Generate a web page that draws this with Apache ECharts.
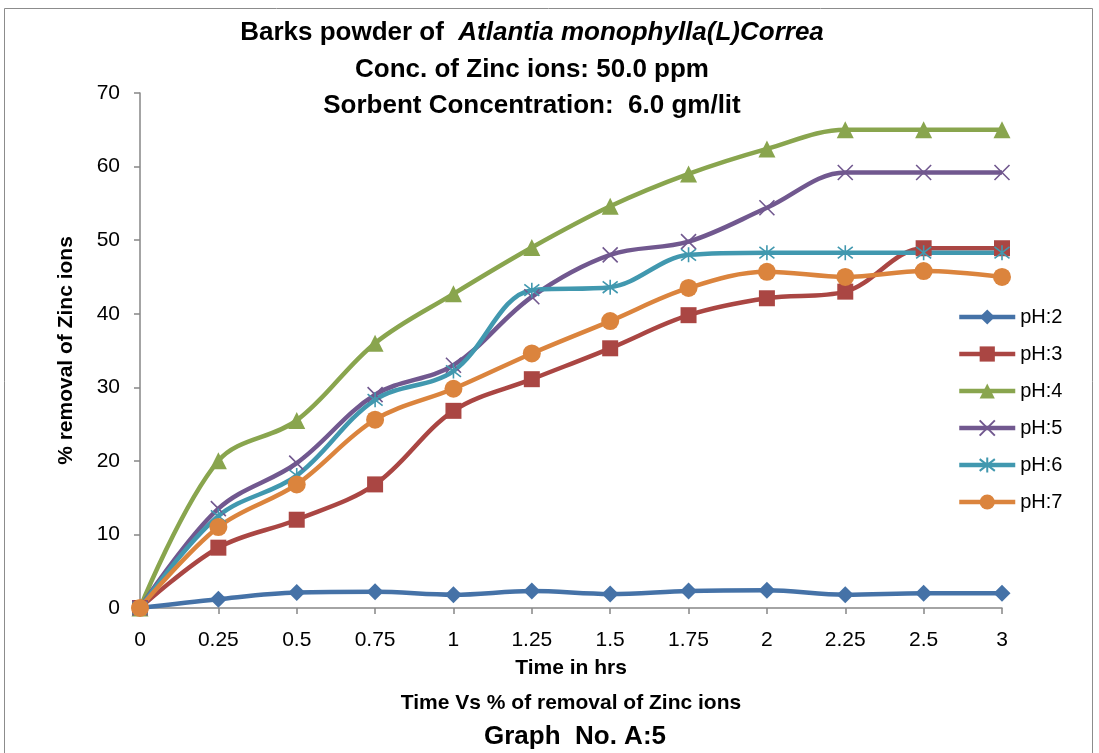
<!DOCTYPE html>
<html><head><meta charset="utf-8">
<script src="https://cdn.jsdelivr.net/npm/echarts@6/dist/echarts.min.js"></script>
<style>html,body{margin:0;padding:0;background:#fff}#c{width:1099px;height:753px}</style>
</head><body><div id="c"></div>
<script>
const categories = ['0','0.25','0.5','0.75','1','1.25','1.5','1.75','2','2.25','2.5','3'];
const pH2 = [0,1.2,2.1,2.2,1.8,2.3,1.9,2.3,2.4,1.8,2.0,2.0];
const pH3 = [0,8.2,12.0,16.8,26.8,31.1,35.3,39.8,42.1,43.0,48.9,48.9];
const pH4 = [0,20.0,25.5,36.0,42.7,49.0,54.6,59.0,62.4,65.0,65.0,65.0];
const pH5 = [0,13.5,19.7,29.0,33.0,42.3,48.0,49.8,54.4,59.2,59.2,59.2];
const pH6 = [0,12.5,18.0,28.3,32.2,43.2,43.6,48.0,48.3,48.3,48.3,48.3];
const pH7 = [0,11.0,16.8,25.6,29.8,34.6,39.0,43.5,45.7,45.0,45.8,45.0];
const seriesNames = ['pH:2','pH:3','pH:4','pH:5','pH:6','pH:7'];
const yTicks = {min:0, max:70, interval:10};

const FONT = "'Liberation Sans', Arial, sans-serif";
const colors = ['#4572A7','#AA4643','#89A54E','#71588F','#4198AF','#DB843D'];
const symbols = ['diamond','rect','triangle','path://M0,0L10,10M10,0L0,10','path://M0,0L10,10M10,0L0,10M5,-1.5L5,11.5','circle'];
const sizes = [17,16,17,15,15,18];
const datas = [pH2,pH3,pH4,pH5,pH6,pH7];

const chart = echarts.init(document.getElementById('c'));
const series = datas.map((d,i)=>({
  name: seriesNames[i], type:'line', data:d, smooth:0.35,
  symbol: symbols[i], symbolSize: sizes[i],
  lineStyle:{color:colors[i], width:4.5},
  itemStyle:{color:colors[i], borderColor:colors[i], borderWidth: i===3||i===4 ? 1.6 : 0},
  emphasis:{disabled:true}
}));

chart.setOption({
  animation:false,
  backgroundColor:'#fff',
  textStyle:{fontFamily:FONT},
  grid:{left:140, right:97, top:93, bottom:145, containLabel:false},
  legend:{
    orient:'vertical', left:952, top:302, itemGap:17, itemWidth:56, itemHeight:19,
    lineStyle:{width:4.5},
    data:seriesNames, textStyle:{fontSize:20, color:'#000', fontFamily:FONT}
  },
  xAxis:{
    type:'category', data:categories, boundaryGap:false,
    name:'Time in hrs', nameLocation:'middle', nameGap:50,
    nameTextStyle:{fontSize:21, fontWeight:'bold', color:'#000', fontFamily:FONT},
    axisLine:{lineStyle:{color:'#868686', width:1.5}},
    axisTick:{show:true, length:6, lineStyle:{color:'#868686', width:1.5}},
    axisLabel:{fontSize:21, color:'#000', margin:22, fontFamily:FONT}
  },
  yAxis:{
    type:'value', min:yTicks.min, max:yTicks.max, interval:yTicks.interval,
    name:'% removal of Zinc ions', nameLocation:'middle', nameGap:63,
    nameTextStyle:{fontSize:21, fontWeight:'bold', color:'#000', fontFamily:FONT},
    axisLine:{show:true, lineStyle:{color:'#868686', width:1.5}},
    axisTick:{show:true, length:6, lineStyle:{color:'#868686', width:1.5}},
    splitLine:{show:false},
    axisLabel:{fontSize:21, color:'#000', margin:20, fontFamily:FONT}
  },
  series: series,
  graphic:[
    {type:'rect', shape:{x:4.5, y:8.5, width:1088, height:800}, style:{fill:'none', stroke:'#8c8c8c', lineWidth:1}, silent:true, z:-10},
    {type:'text', x:532, y:33, style:{
      text:'{b|Barks powder of  }{i|Atlantia monophylla(L)Correa}',
      align:'center', verticalAlign:'middle',
      rich:{b:{fontSize:26, fontWeight:'bold', fontFamily:FONT, fill:'#000'},
            i:{fontSize:26, fontWeight:'bold', fontStyle:'italic', fontFamily:FONT, fill:'#000'}}
    }},
    {type:'text', x:532, y:70, style:{text:'Conc. of Zinc ions: 50.0 ppm', align:'center', verticalAlign:'middle', fontSize:26, fontWeight:'bold', fontFamily:FONT, fill:'#000'}},
    {type:'text', x:532, y:106, style:{text:'Sorbent Concentration:  6.0 gm/lit', align:'center', verticalAlign:'middle', fontSize:26, fontWeight:'bold', fontFamily:FONT, fill:'#000'}},
    {type:'text', x:571, y:703, style:{text:'Time Vs % of removal of Zinc ions', align:'center', verticalAlign:'middle', fontSize:21, fontWeight:'bold', fontFamily:FONT, fill:'#000'}},
    {type:'text', x:575, y:737, style:{text:'Graph  No. A:5', align:'center', verticalAlign:'middle', fontSize:26, fontWeight:'bold', fontFamily:FONT, fill:'#000'}}
  ]
});
</script></body></html>
